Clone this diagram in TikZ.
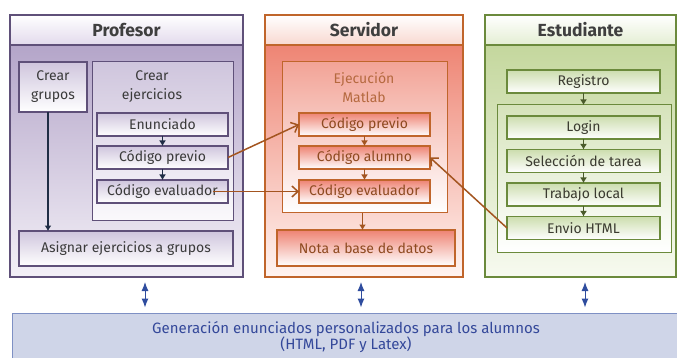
\documentclass[tikz,border=0pt]{standalone}
\usepackage{fontspec}
\setmainfont{Fira Sans}
\usetikzlibrary{arrows.meta}

\definecolor{titletext}{HTML}{3F3F3F}
% profesor
\definecolor{profline}{HTML}{5F5079}
\definecolor{profbody}{HTML}{B4A5C9}
\definecolor{profbot}{HTML}{F3F0F7}
\definecolor{profhead}{HTML}{E2DAEC}
\definecolor{proffill}{HTML}{CFC5DD}
\definecolor{proftext}{HTML}{3A3A3A}
\definecolor{profarrow}{HTML}{1F2D45}
% servidor
\definecolor{servline}{HTML}{C0652B}
\definecolor{servbody}{HTML}{EE8574}
\definecolor{servbot}{HTML}{FFF4F1}
\definecolor{servhead}{HTML}{F8D8D0}
\definecolor{servfill}{HTML}{EE8373}
\definecolor{servtext}{HTML}{8E4A20}
\definecolor{servlabel}{HTML}{B5693F}
\definecolor{servarrow}{HTML}{A35520}
% estudiante
\definecolor{estline}{HTML}{6B8A3C}
\definecolor{estbody}{HTML}{C4D79D}
\definecolor{estbot}{HTML}{F7FAF0}
\definecolor{esthead}{HTML}{E4EED3}
\definecolor{estfill}{HTML}{CCDDAE}
\definecolor{esttext}{HTML}{3B3B30}
\definecolor{estarrow}{HTML}{4A5A2A}
% generacion
\definecolor{bandfill}{HTML}{CFD5E8}
\definecolor{bandline}{HTML}{7E90C4}
\definecolor{bandtext}{HTML}{34489A}
\definecolor{dblarrow}{HTML}{2E4C9E}

\tikzset{
  lane/.style={draw=#1, line width=1.5pt, inner sep=0pt, outer sep=0pt},
  head/.style={draw=#1, line width=1.5pt, top color=white, minimum height=30pt,
    inner sep=0pt, outer sep=0pt, text=titletext,
    font=\bfseries\fontsize{17.5}{20}\selectfont},
  cajon/.style={draw=#1, line width=1pt, inner sep=0pt, outer sep=0pt},
  caja/.style={draw=#1, line width=1.1pt, bottom color=white, minimum height=23pt,
    inner sep=0pt, outer sep=0pt, align=center, font=\fontsize{14}{17}\selectfont},
  paso/.style={line width=1.4pt, -{Latex[length=5.5pt,width=7pt]}},
  cruce/.style={draw=servarrow, line width=1.5pt, -{Straight Barb[length=6pt,width=11pt]}},
  dbl/.style={draw=dblarrow, line width=1pt, {Latex[length=9pt,width=7pt]}-{Latex[length=9pt,width=7pt]},
    shorten >=5pt, shorten <=5pt}
}

\begin{document}
\begin{tikzpicture}[x=1pt,y=-1pt]
  \useasboundingbox (0,0) rectangle (677,358);

  %%%% profesor
  \node[lane=profline, top color=profbody, bottom color=profbot,
    minimum width=233pt, minimum height=232pt] (profl) at (126.5,161) {};
  \node[head=profline, bottom color=profhead, minimum width=233pt] (proft) at (126.5,30) {Profesor};
  \node[caja=profline, top color=proffill, bottom color=white, text=proftext,
    minimum width=68pt, minimum height=50pt, font=\fontsize{14}{19}\selectfont] (grupos) at (53,87) {Crear\\grupos};
  \node[cajon=profline, top color=proffill, bottom color=profbot!40!white,
    minimum width=141pt, minimum height=158pt] (ejer) at (162.5,141) {};
  \node[align=center, text=proftext, font=\fontsize{14}{19}\selectfont] (ejerl) at (152,87) {Crear\\ejercicios};
  %% the boxes
  \foreach \n/\y/\t in {enun/124.5/Enunciado, pprev/157.5/Código previo, peval/191.5/Código evaluador}
    \node[caja=profline, top color=proffill, text=proftext, minimum width=131pt] (\n) at (162.5,\y) {\t};
  \node[caja=profline, top color=proffill, text=proftext,
    minimum width=214pt, minimum height=35pt] (asig) at (126,248.5) {Asignar ejercicios a grupos};
  \draw[paso, profarrow] (enun) -- (pprev);
  \draw[paso, profarrow] (pprev) -- (peval);
  \draw[paso, profarrow] ([xshift=-5pt]grupos.south) -- ([xshift=-5pt]grupos.south |- asig.north);

  %%%% servidor
  \node[lane=servline, top color=servbody, bottom color=servbot,
    minimum width=198pt, minimum height=232pt] (servl) at (364,161) {};
  \node[head=servline, bottom color=servhead, minimum width=198pt] (servt) at (364,30) {Servidor};
  \node[cajon=servline, top color=servbody!75!white, bottom color=white,
    minimum width=165pt, minimum height=151pt] (matlab) at (364.5,137.5) {};
  \node[align=center, text=servlabel, font=\fontsize{14}{19}\selectfont] (matl) at (364,87) {Ejecución\\Matlab};
  %% the boxes
  \foreach \n/\y/\t in {sprev/124.5/Código previo, salum/157.5/Código alumno, seval/191.5/Código evaluador}
    \node[caja=servline, top color=servfill, text=servtext, minimum width=131pt] (\n) at (364.5,\y) {\t};
  \node[caja=servline, top color=servfill, text=servtext,
    minimum width=178pt, minimum height=36pt] (nota) at (366,248) {Nota a base de datos};
  \draw[paso, servarrow] (sprev) -- (salum);
  \draw[paso, servarrow] (salum) -- (seval);
  \draw[paso, servarrow] ([xshift=-2pt]matlab.south) -- ([xshift=-2pt]matlab.south |- nota.north);

  %%%% estudiante
  \node[lane=estline, top color=estbody, bottom color=estbot,
    minimum width=191pt, minimum height=232pt] (estl) at (580.5,161) {};
  \node[head=estline, bottom color=esthead, minimum width=191pt] (estt) at (580.5,30) {Estudiante};
  \node[caja=estline, top color=estfill, text=esttext, minimum width=153pt] (reg) at (583.5,81.5) {Registro};
  \node[cajon=estline, top color=estbody!70!white, bottom color=white,
    minimum width=174pt, minimum height=147pt] (cont) at (584,178.5) {};
  %% the boxes
  \foreach \n/\y/\t in {login/127.5/Login, sel/161/Selección de tarea, trab/194.5/Trabajo local, envio/228/Envio HTML}
    \node[caja=estline, top color=estfill, text=esttext, minimum width=153pt] (\n) at (583.5,\y) {\t};
  \draw[paso, estarrow] (reg.south) -- (reg.south |- cont.north);
  \draw[paso, estarrow] (login) -- (sel);
  \draw[paso, estarrow] (sel) -- (trab);
  \draw[paso, estarrow] (trab) -- (envio);

  %%%% cruces
  \draw[cruce] (pprev.east) -- (sprev.west);
  \draw[cruce] ([xshift=-15pt]peval.east) -- (seval.west);
  \draw[cruce] (envio.west) -- (salum.east);

  %%%% generacion
  \node[draw=bandline, fill=bandfill, line width=1pt, minimum width=668pt, minimum height=48pt,
    align=center, text=bandtext, font=\fontsize{15}{16}\selectfont] (band) at (346,337)
    {Generación enunciados personalizados para los alumnos\\(HTML, PDF y Latex)};
  \draw[dbl] ([xshift=18.5pt]profl.south) -- ([xshift=18.5pt]profl.south |- band.north);
  \draw[dbl] ([xshift=-3pt]servl.south) -- ([xshift=-3pt]servl.south |- band.north);
  \draw[dbl] ([xshift=4.5pt]estl.south) -- ([xshift=4.5pt]estl.south |- band.north);
\end{tikzpicture}
\end{document}
